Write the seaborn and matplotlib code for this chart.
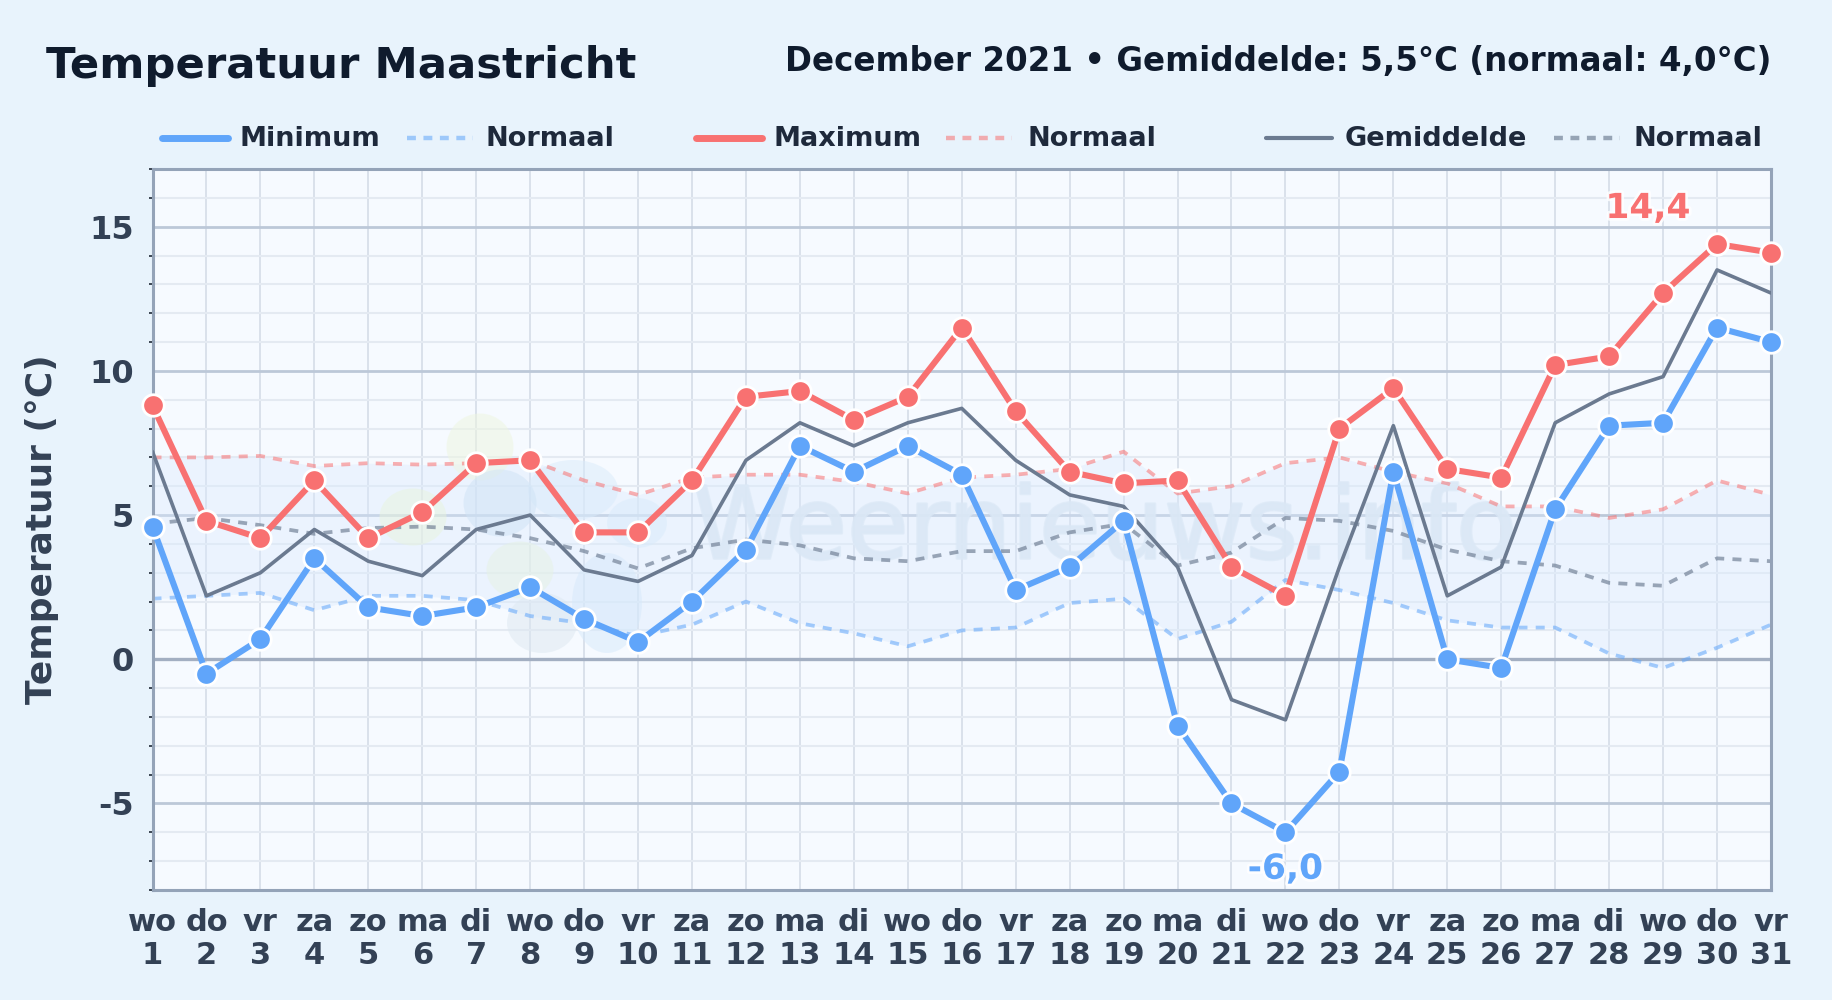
import matplotlib
matplotlib.use('Agg')
import matplotlib.pyplot as plt
import matplotlib.patheffects as pe
from matplotlib.patches import Ellipse
from matplotlib.ticker import MultipleLocator, FixedLocator
import pandas as pd
import seaborn as sns

# Data (December 2021, Maastricht)
days = list(range(1, 32))
weekdays = ['wo', 'do', 'vr', 'za', 'zo', 'ma', 'di'] * 4 + ['wo', 'do', 'vr']
t_min = [4.6, -0.5, 0.7, 3.5, 1.8, 1.5, 1.8, 2.5, 1.4, 0.6, 2.0, 3.8, 7.4, 6.5, 7.4, 6.4,
         2.4, 3.2, 4.8, -2.3, -5.0, -6.0, -3.9, 6.5, 0.0, -0.3, 5.2, 8.1, 8.2, 11.5, 11.0]
t_max = [8.8, 4.8, 4.2, 6.2, 4.2, 5.1, 6.8, 6.9, 4.4, 4.4, 6.2, 9.1, 9.3, 8.3, 9.1, 11.5,
         8.6, 6.5, 6.1, 6.2, 3.2, 2.2, 8.0, 9.4, 6.6, 6.3, 10.2, 10.5, 12.7, 14.4, 14.1]
t_mean = [7.2, 2.2, 3.0, 4.5, 3.4, 2.9, 4.5, 5.0, 3.1, 2.7, 3.6, 6.9, 8.2, 7.4, 8.2, 8.7,
          6.9, 5.7, 5.3, 3.2, -1.4, -2.1, 3.2, 8.1, 2.2, 3.2, 8.2, 9.2, 9.8, 13.5, 12.7]
norm_min = [2.1, 2.2, 2.3, 1.7, 2.2, 2.2, 2.05, 1.5, 1.25, 0.8, 1.2, 2.0, 1.25, 0.9, 0.45, 1.0,
            1.1, 1.95, 2.1, 0.7, 1.3, 2.75, 2.4, 1.95, 1.35, 1.1, 1.1, 0.2, -0.3, 0.4, 1.2]
norm_max = [7.0, 7.0, 7.05, 6.7, 6.8, 6.75, 6.8, 6.9, 6.2, 5.7, 6.3, 6.4, 6.4, 6.15, 5.75, 6.3,
            6.4, 6.6, 7.2, 5.75, 6.0, 6.8, 7.0, 6.5, 6.1, 5.3, 5.3, 4.9, 5.2, 6.2, 5.7]
norm_mean = [4.7, 4.9, 4.65, 4.35, 4.55, 4.6, 4.5, 4.2, 3.75, 3.15, 3.85, 4.15, 3.95, 3.5, 3.4, 3.75,
             3.75, 4.4, 4.7, 3.25, 3.7, 4.9, 4.8, 4.45, 3.8, 3.4, 3.25, 2.65, 2.55, 3.5, 3.4]

df = pd.DataFrame({'dag': days, 'min': t_min, 'max': t_max, 'gem': t_mean,
                   'nmin': norm_min, 'nmax': norm_max, 'ngem': norm_mean})

BLUE = '#60a5fa'
RED = '#f87171'
GREY = '#6b7a90'
DARK = '#0f1b2d'
LABEL = '#334155'
FRAME = '#94a3b8'
DASH = (0, (2.4, 2.2))

sns.set_theme(style='white')
plt.rcParams['font.family'] = ['DejaVu Sans']

fig = plt.figure(figsize=(18.32, 10.0), dpi=100, facecolor='#e8f3fc')
ax = fig.add_axes([152.5 / 1832, 1 - 890 / 1000, (1771 - 152.5) / 1832, (890 - 169) / 1000])
ax.set_facecolor('#f6faff')

ax.set_xlim(1, 31)
ax.set_ylim(-8, 17)

# grid
ax.xaxis.set_major_locator(FixedLocator(days))
ax.yaxis.set_major_locator(MultipleLocator(5))
ax.yaxis.set_minor_locator(MultipleLocator(1))
ax.grid(which='major', axis='x', color='#d8dfe9', lw=1.3, zorder=1)
ax.grid(which='minor', axis='y', color='#e4eaf2', lw=1.5, zorder=1)
ax.grid(which='major', axis='y', color='#bcc8d8', lw=2.0, zorder=1)
ax.set_axisbelow(True)
ax.axhline(0, color='#a3afc2', lw=2.4, zorder=1.5)

# band between the normal min and max
ax.fill_between(days, norm_min, norm_max, color='#dbeafe', alpha=0.4, lw=0, zorder=1.2)


# watermark logo, positions in image pixels
def px_to_data(px, py):
    return 1 + (px - 152.5) / (1618.5 / 30), 17 - (py - 169) / (721 / 25)


blobs = [(480, 447, 67, 67, '#eef6df'), (413, 517, 67, 57, '#e8f3dd'), (520, 570, 67, 57, '#e6f2e4'),
         (573, 490, 90, 60, '#d9ebfb'), (637, 523, 60, 50, '#d9ebfb'), (500, 503, 73, 67, '#cfe3f6'),
         (607, 603, 70, 100, '#d6e9fb'), (542, 623, 70, 60, '#dde8f1')]
for px, py, w, h, c in blobs:
    ax.add_patch(Ellipse(px_to_data(px, py), w / (1618.5 / 30), h / (721 / 25), color=c, alpha=0.5,
                         lw=0, zorder=1.3))
wm = ax.text(18.65, 4.45, 'Weernieuws.info', fontsize=72, color='#dbe8f6', alpha=0.7,
             ha='center', va='center', zorder=1.4)
wm.set_path_effects([pe.withStroke(linewidth=2, foreground='#dbe8f6', alpha=0.7)])

# normal lines
sns.lineplot(data=df, x='dag', y='nmin', ax=ax, color=BLUE, alpha=0.55, lw=2.7, ls=DASH, zorder=2)
sns.lineplot(data=df, x='dag', y='nmax', ax=ax, color=RED, alpha=0.55, lw=2.7, ls=DASH, zorder=2)
sns.lineplot(data=df, x='dag', y='ngem', ax=ax, color=GREY, alpha=0.65, lw=2.7, ls=DASH, zorder=2)

# mean, min and max
sns.lineplot(data=df, x='dag', y='gem', ax=ax, color=GREY, lw=2.6, zorder=3)
for col, colr in [('min', BLUE), ('max', RED)]:
    sns.lineplot(data=df, x='dag', y=col, ax=ax, color=colr, lw=4.4, marker='o', ms=15.5,
                 mec='white', mew=2.0, zorder=4, clip_on=False)

# extremes
i_max = t_max.index(max(t_max))
i_min = t_min.index(min(t_min))
fx_kw = dict(fontsize=24.8, fontweight='bold', ha='center', va='center', zorder=5)
t1 = ax.text(days[i_max] - 1.28, t_max[i_max] + 1.23, '14,4', color=RED, **fx_kw)
t2 = ax.text(days[i_min], t_min[i_min] - 1.28, '-6,0', color=BLUE, **fx_kw)
for t in (t1, t2):
    t.set_path_effects([pe.withStroke(linewidth=4, foreground='white', alpha=0.8)])

# axes
for s in ax.spines.values():
    s.set_color(FRAME)
    s.set_linewidth(2.2)
ax.set_xlabel('')
ax.set_ylabel('Temperatuur (°C)', fontsize=25.9, fontweight='bold', color=LABEL, labelpad=0)
ax.yaxis.set_label_coords(-0.0575, 0.5)
ax.set_xticks(days)
ax.set_xticklabels([f'{w}\n{d}' for w, d in zip(weekdays, days)], fontsize=22, fontweight='bold',
                   color=LABEL, linespacing=1.15)
ax.set_yticks([-5, 0, 5, 10, 15])
ax.set_yticklabels(['-5', '0', '5', '10', '15'], fontsize=23, fontweight='bold', color=LABEL)
ax.tick_params(axis='x', which='major', length=0, pad=13)
ax.tick_params(axis='y', which='major', length=0, pad=13.5)
ax.tick_params(axis='y', which='minor', length=3, width=1.2, color='#1f2937', left=True)

# header
fig.text(46 / 1832, 1 - 66 / 1000, 'Temperatuur Maastricht', fontsize=31.2, fontweight='bold',
         color=DARK, ha='left', va='center')
fig.text(1771 / 1832, 1 - 62 / 1000, 'December 2021 • Gemiddelde: 5,5°C (normaal: 4,0°C)', fontsize=23.45,
         fontweight='bold', color=DARK, ha='right', va='center')

# legend drawn by hand so the spacing follows the original
LEG_DASH = (0, (2.0, 1.7))
legend_items = [('Minimum', BLUE, 5, '-', 162, 240, 1.0), ('Normaal', BLUE, 3.2, LEG_DASH, 407, 485, 0.55),
                ('Maximum', RED, 5, '-', 696, 773, 1.0), ('Normaal', RED, 3.2, LEG_DASH, 946, 1027, 0.55),
                ('Gemiddelde', GREY, 3.0, '-', 1266, 1345, 1.0), ('Normaal', GREY, 3.2, LEG_DASH, 1554, 1633, 0.65)]
for name, colr, lw, ls, x0, tx, a in legend_items:
    fig.add_artist(plt.Line2D([x0 / 1832, (x0 + 66) / 1832], [1 - 137.5 / 1000] * 2, color=colr, lw=lw, ls=ls,
                              alpha=a, solid_capstyle='round', transform=fig.transFigure))
    fig.text(tx / 1832, 1 - 138.5 / 1000, name, fontsize=19.5, fontweight='bold', color='#1e293b',
             ha='left', va='center')

fig.savefig('out.png', dpi=100, facecolor=fig.get_facecolor())
